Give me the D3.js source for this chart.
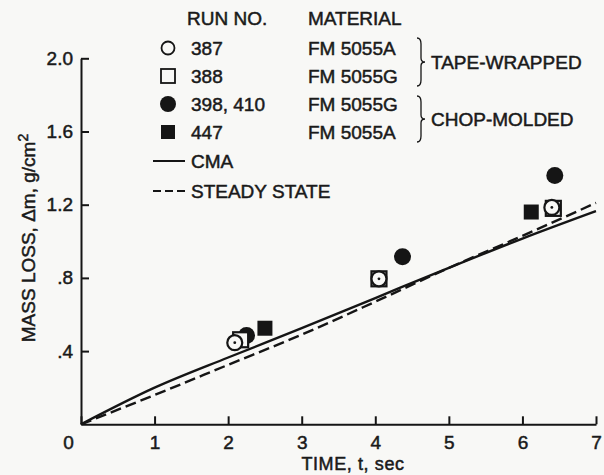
<!DOCTYPE html>
<html>
<head>
<meta charset="utf-8">
<script src="https://cdn.jsdelivr.net/npm/d3@7"></script>
<style>
  body { margin: 0; background: #f8f8f6; }
  text { font-family: "Liberation Sans", Arial, sans-serif; fill: #1a1a1a; stroke: #1a1a1a; stroke-width: 0.5px; }
</style>
</head>
<body>
<script>
// Data
var run387 = [ [2.09, 0.446], [4.05, 0.795], [6.40, 1.185] ];   // open circle
var run388 = [ [2.17, 0.462], [4.05, 0.795], [6.42, 1.180] ];   // open square
var run398 = [ [2.25, 0.485], [4.37, 0.916], [6.44, 1.360] ];   // filled circle
var run447 = [ [2.50, 0.525], [6.12, 1.160] ];                  // filled square

var lineT      = [0, 1, 2, 3, 4, 5, 6, 7];
var cmaM       = [0, 0.200, 0.365, 0.525, 0.690, 0.855, 1.015, 1.165];
var steadyM    = [0, 0.160, 0.325, 0.490, 0.670, 0.855, 1.030, 1.210];

var xTicks      = [0, 1, 2, 3, 4, 5, 6, 7];
var yTicks      = [0.4, 0.8, 1.2, 1.6, 2.0];
var yTickLabels = [".4", ".8", "1.2", "1.6", "2.0"];

var legendRuns      = ["387", "388", "398, 410", "447"];
var legendMaterials = ["FM 5055A", "FM 5055G", "FM 5055G", "FM 5055A"];
var groups          = ["TAPE-WRAPPED", "CHOP-MOLDED"];


var width = 604, height = 475;
var ink = "#151515";

var svg = d3.select("body").append("svg")
            .attr("width", width)
            .attr("height", height);

var x = d3.scaleLinear().domain([0, 7]).range([81, 596]);
var y = d3.scaleLinear().domain([0, 2]).range([424.3, 58.3]);

// axes
var xAxis = svg.append("g")
   .attr("transform", "translate(0," + y(0) + ")")
   .call( d3.axisBottom( x ).tickValues(xTicks).tickSizeInner(-8).tickSizeOuter(0)
          .tickPadding(11).tickFormat(d3.format("d")) );

xAxis.selectAll("text").filter(function (d) { return d === 0; }).attr("dx", -13);

var yAxis = svg.append("g")
   .attr("transform", "translate(" + x(0) + ",0)")
   .call( d3.axisLeft( y ).tickValues(yTicks).tickSizeInner(-8).tickSizeOuter(0)
          .tickPadding(8).tickFormat(function (d, i) { return yTickLabels[i]; }) );

svg.selectAll(".domain, .tick line").attr("stroke", ink).attr("stroke-width", 2);
svg.selectAll(".tick text").attr("font-size", 19).attr("fill", ink).attr("stroke", ink);

// axis titles
svg.append("text")
   .attr("x", 353).attr("y", 470)
   .attr("text-anchor", "middle")
   .attr("font-size", 18)
   .attr("letter-spacing", 0.6)
   .text("TIME, t, sec");

var yt = svg.append("text")
   .attr("transform", "translate(35,238) rotate(-90)")
   .attr("text-anchor", "middle")
   .attr("font-size", 19);
yt.append("tspan").text("MASS LOSS, \u0394m, g/cm");
yt.append("tspan").attr("dy", -7).attr("font-size", 14).text("2");

// curves
var line = d3.line()
   .x(function (d) { return x(d[0]); })
   .y(function (d) { return y(d[1]); })
   .curve(d3.curveMonotoneX);

svg.append("path")
   .datum(d3.zip(lineT, cmaM))
   .attr("d", line)
   .attr("fill", "none").attr("stroke", ink).attr("stroke-width", 2.4);

svg.append("path")
   .datum(d3.zip(lineT, steadyM))
   .attr("d", line)
   .attr("fill", "none").attr("stroke", ink).attr("stroke-width", 2.4)
   .attr("stroke-dasharray", "11,5");

// markers
var bg = "#f8f8f6";

svg.selectAll(".fc").data(run398).enter().append("circle")
   .attr("cx", function (d) { return x(d[0]); })
   .attr("cy", function (d) { return y(d[1]); })
   .attr("r", 8.5).attr("fill", ink);

svg.selectAll(".fs").data(run447).enter().append("rect")
   .attr("x", function (d) { return x(d[0]) - 7.5; })
   .attr("y", function (d) { return y(d[1]) - 7.5; })
   .attr("width", 15).attr("height", 15).attr("fill", ink);

svg.selectAll(".os").data(run388).enter().append("rect")
   .attr("x", function (d) { return x(d[0]) - 7.5; })
   .attr("y", function (d) { return y(d[1]) - 7.5; })
   .attr("width", 15).attr("height", 15)
   .attr("fill", bg).attr("stroke", ink).attr("stroke-width", 2.2);

svg.selectAll(".oc").data(run387).enter().append("circle")
   .attr("cx", function (d) { return x(d[0]); })
   .attr("cy", function (d) { return y(d[1]); })
   .attr("r", 7.5)
   .attr("fill", bg).attr("stroke", ink).attr("stroke-width", 2.2);

svg.selectAll(".ocd").data(run387).enter().append("circle")
   .attr("cx", function (d) { return x(d[0]); })
   .attr("cy", function (d) { return y(d[1]); })
   .attr("r", 1.4).attr("fill", ink);

// legend
var lg = svg.append("g").attr("font-size", 19);

lg.append("text").attr("x", 187).attr("y", 25).text("RUN NO.");
lg.append("text").attr("x", 308).attr("y", 25).text("MATERIAL");

var rowY = [48, 76, 104, 132];

legendRuns.forEach(function (r, i) {
    lg.append("text").attr("x", 191).attr("y", rowY[i]).attr("dy", "0.36em").text(r);
    lg.append("text").attr("x", 308).attr("y", rowY[i]).attr("dy", "0.36em").text(legendMaterials[i]);
});

lg.append("circle").attr("cx", 168).attr("cy", rowY[0]).attr("r", 6.5)
  .attr("fill", "none").attr("stroke", ink).attr("stroke-width", 1.8);
lg.append("rect").attr("x", 161).attr("y", rowY[1] - 7).attr("width", 14).attr("height", 14)
  .attr("fill", "none").attr("stroke", ink).attr("stroke-width", 1.8);
lg.append("circle").attr("cx", 168).attr("cy", rowY[2]).attr("r", 8).attr("fill", ink);
lg.append("rect").attr("x", 161).attr("y", rowY[3] - 7).attr("width", 14).attr("height", 14).attr("fill", ink);

lg.append("line").attr("x1", 153).attr("x2", 185).attr("y1", 161).attr("y2", 161)
  .attr("stroke", ink).attr("stroke-width", 2);
lg.append("text").attr("x", 191).attr("y", 161).attr("dy", "0.36em").text("CMA");

lg.append("line").attr("x1", 153).attr("x2", 186).attr("y1", 191).attr("y2", 191)
  .attr("stroke", ink).attr("stroke-width", 2).attr("stroke-dasharray", "8,4");
lg.append("text").attr("x", 191).attr("y", 191).attr("dy", "0.36em").text("STEADY STATE");

// braces
function brace(x0, y0, y1) {
    var m = (y0 + y1) / 2;
    return "M" + x0 + "," + y0 +
           " Q" + (x0 + 4) + "," + y0 + " " + (x0 + 4) + "," + (y0 + 6) +
           " L" + (x0 + 4) + "," + (m - 4) +
           " Q" + (x0 + 4) + "," + m + " " + (x0 + 8) + "," + m +
           " Q" + (x0 + 4) + "," + m + " " + (x0 + 4) + "," + (m + 4) +
           " L" + (x0 + 4) + "," + (y1 - 6) +
           " Q" + (x0 + 4) + "," + y1 + " " + x0 + "," + y1;
}

var braceSpan = [ [38, 86], [96, 142] ];
groups.forEach(function (g, i) {
    var b = braceSpan[i];
    lg.append("path").attr("d", brace(417, b[0], b[1]))
      .attr("fill", "none").attr("stroke", ink).attr("stroke-width", 1.3);
    lg.append("text").attr("x", 431).attr("y", (b[0] + b[1]) / 2).attr("dy", "0.36em").text(g);
});
</script>
</body>
</html>
